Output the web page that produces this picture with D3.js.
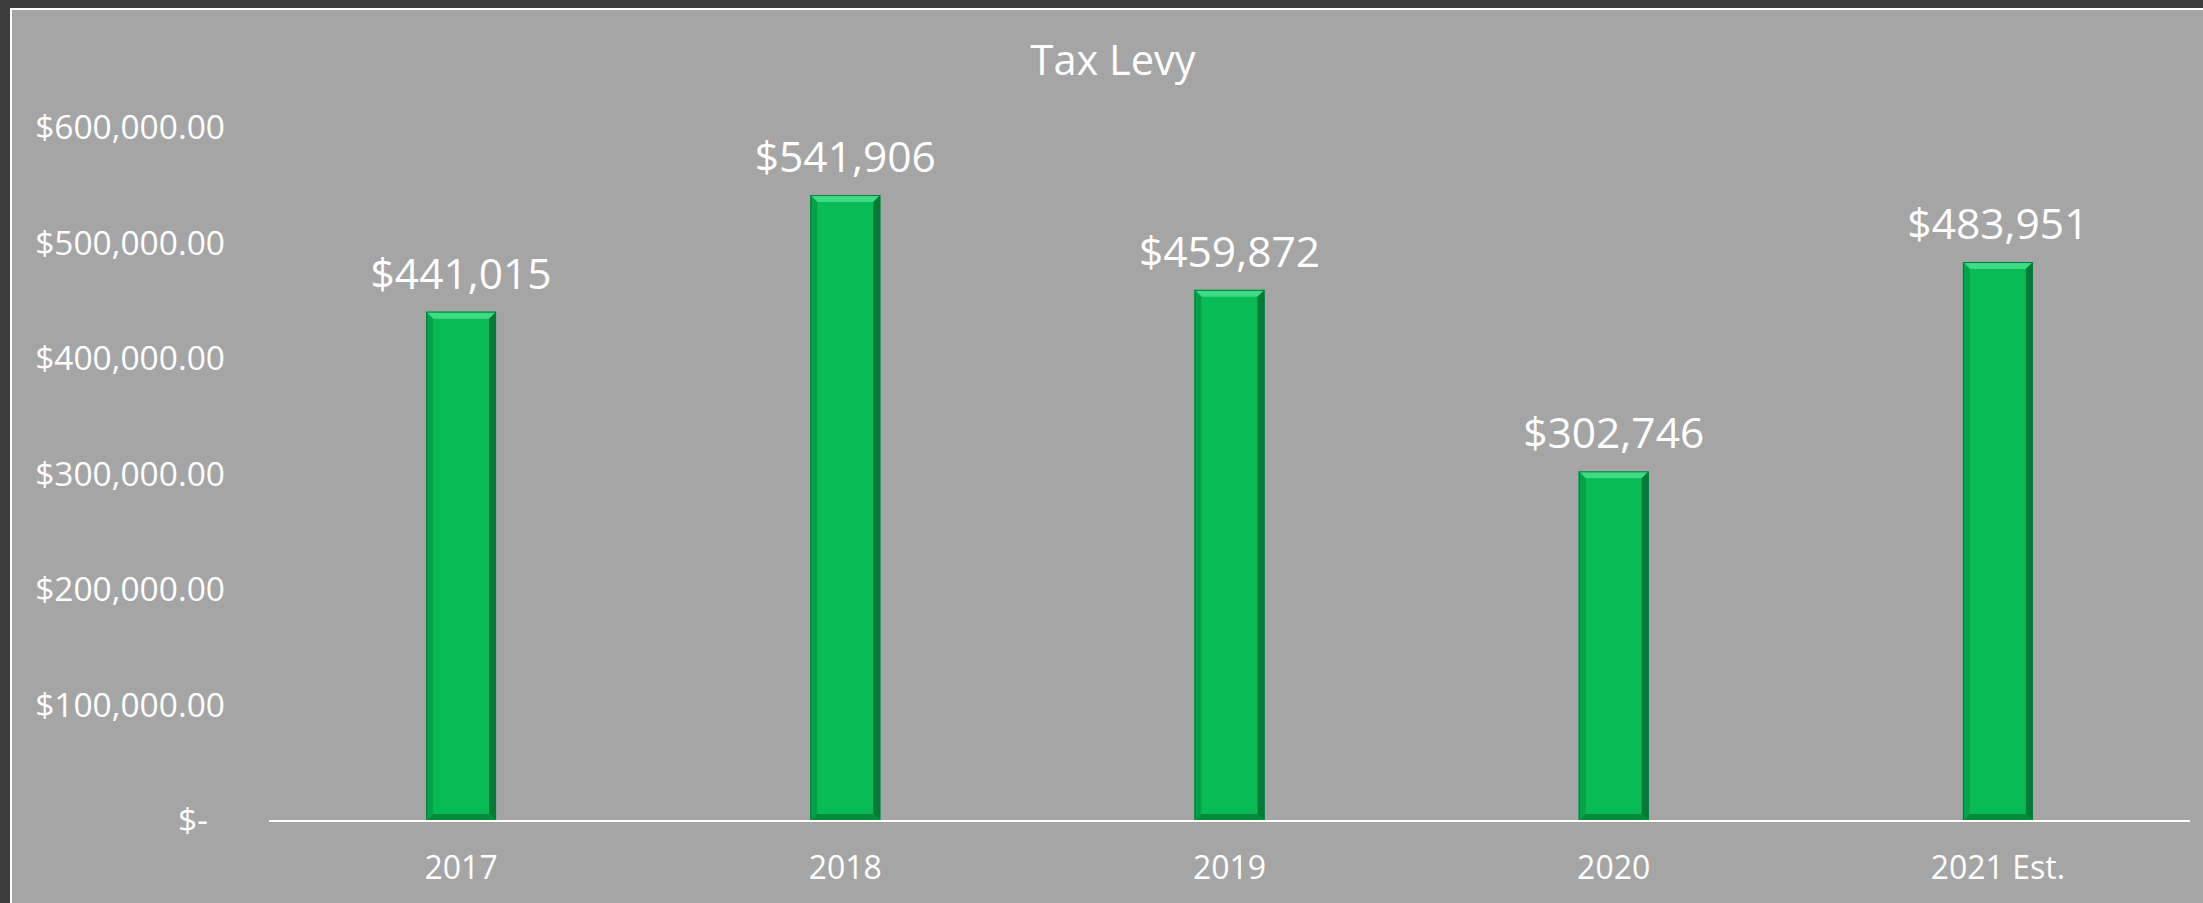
<!DOCTYPE html>
<html>
<head>
<meta charset="utf-8">
<script src="https://cdn.jsdelivr.net/npm/d3@7"></script>
<style>
  html, body { margin: 0; padding: 0; background: #3c3c3c; }
  svg { display: block; }
  text { font-family: "Open Sans", "Noto Sans", sans-serif; fill: #ffffff; }
</style>
</head>
<body>
<svg id="chart" width="2203" height="903"></svg>
<script>
// Tax levy by year
const categories = ["2017", "2018", "2019", "2020", "2021 Est."];
const levy = [441015, 541906, 459872, 302746, 483951];
const yTicks = [0, 100000, 200000, 300000, 400000, 500000, 600000];
const title = "Tax Levy";

const W = 2203, H = 903;
const margin = { left: 269, right: 13, top: 128, bottom: 82 };

const svg = d3.select("#chart");

// chart panel with thin white frame
svg.append("rect")
  .attr("x", 11).attr("y", 9)
  .attr("width", W).attr("height", H)
  .attr("fill", "#a5a5a5")
  .attr("stroke", "#ffffff").attr("stroke-width", 2);

const x = d3.scaleBand()
  .domain(categories)
  .range([margin.left, W - margin.right])
  .paddingInner(0.818)
  .paddingOuter(0.409);

const y = d3.scaleLinear()
  .domain([0, 600000])
  .range([H - margin.bottom, margin.top]);

// title
svg.append("text")
  .attr("x", 1113).attr("y", 75)
  .attr("text-anchor", "middle")
  .attr("font-size", 41.5)
  .text(title);

// value axis labels
const fmt = d3.format(",.2f");
const yAxis = svg.append("g")
  .attr("transform", `translate(${margin.left - 44},0)`)
  .call(d3.axisLeft(y).tickValues(yTicks).tickSize(0).tickPadding(0)
    .tickFormat(d => d === 0 ? "$-" : "$" + fmt(d)));
yAxis.select(".domain").remove();
yAxis.selectAll("text")
  .attr("font-size", 33.5)
  .attr("font-family", "'Open Sans', sans-serif")
  .attr("fill", "#ffffff")
  .attr("dx", d => d === 0 ? -17 : 0);

// bars with bevelled edges
const bev = 7;
const bars = svg.append("g").selectAll("g")
  .data(categories.map((c, i) => ({ c, v: levy[i] })))
  .join("g");

bars.each(function (d) {
  const g = d3.select(this);
  const x0 = x(d.c), x1 = x0 + x.bandwidth();
  const y0 = y(d.v), y1 = y(0);
  g.append("rect")
    .attr("x", x0).attr("y", y0)
    .attr("width", x1 - x0).attr("height", y1 - y0)
    .attr("fill", "#08bb55");
  const poly = (pts, fill) => g.append("polygon")
    .attr("points", pts.map(p => p.join(",")).join(" "))
    .attr("fill", fill);
  // top
  poly([[x0, y0], [x1, y0], [x1 - bev, y0 + bev], [x0 + bev, y0 + bev]], "#3fdc86");
  // left
  poly([[x0, y0], [x0 + bev, y0 + bev], [x0 + bev, y1 - bev], [x0, y1]], "#06a148");
  // right
  poly([[x1, y0], [x1, y1], [x1 - bev, y1 - bev], [x1 - bev, y0 + bev]], "#047a36");
  // bottom
  poly([[x0, y1], [x0 + bev, y1 - bev], [x1 - bev, y1 - bev], [x1, y1]], "#05893e");
  // outline
  g.append("rect")
    .attr("x", x0 + 0.5).attr("y", y0 + 0.5)
    .attr("width", x1 - x0 - 1).attr("height", y1 - y0 - 1)
    .attr("fill", "none").attr("stroke", "#067a3a").attr("stroke-width", 1);
});

// category axis baseline
svg.append("line")
  .attr("x1", margin.left).attr("x2", W - margin.right)
  .attr("y1", y(0)).attr("y2", y(0))
  .attr("stroke", "#ffffff").attr("stroke-width", 2);

// category labels
const xAxis = svg.append("g")
  .attr("transform", `translate(0,${y(0)})`)
  .call(d3.axisBottom(x).tickSize(0).tickPadding(0));
xAxis.select(".domain").remove();
xAxis.selectAll("text")
  .attr("font-size", 32)
  .attr("font-family", "'Open Sans', sans-serif")
  .attr("fill", "#ffffff")
  .attr("dy", 0)
  .attr("y", 58);

// data labels
const dollars = d3.format(",");
svg.append("g").selectAll("text")
  .data(categories.map((c, i) => ({ c, v: levy[i] })))
  .join("text")
  .attr("x", d => x(d.c) + x.bandwidth() / 2)
  .attr("y", d => y(d.v) - 23)
  .attr("text-anchor", "middle")
  .attr("font-size", 42.5)
  .text(d => "$" + dollars(d.v));
</script>
</body>
</html>
